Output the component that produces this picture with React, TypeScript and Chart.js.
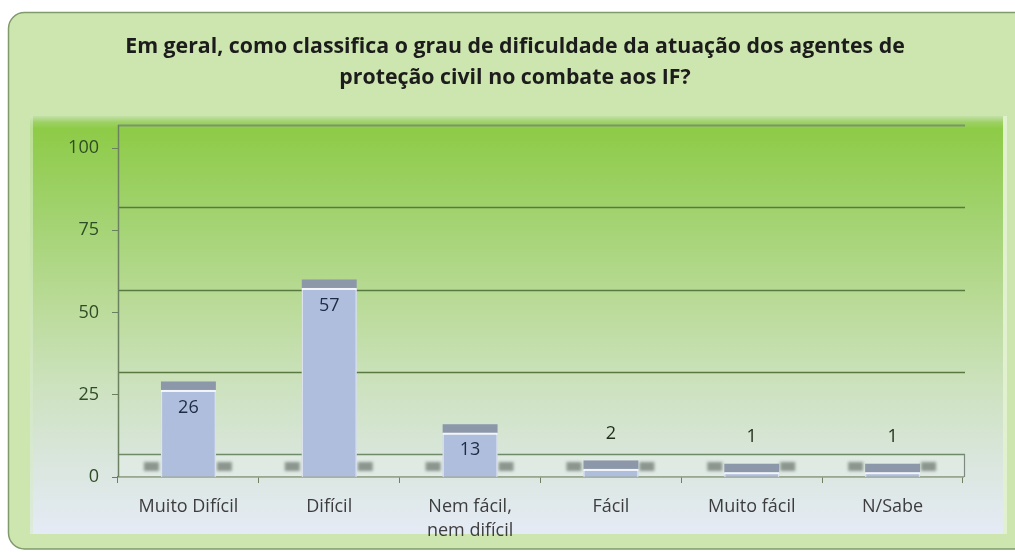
import React, { useEffect, useRef } from "react";
import { Chart, registerables } from "chart.js";

Chart.register(...registerables);

const titleLines = [
  "Em geral, como classifica o grau de dificuldade da atuação dos agentes de",
  "proteção civil no combate aos IF?",
];
const categories = [
  ["Muito Difícil"],
  ["Difícil"],
  ["Nem fácil,", "nem difícil"],
  ["Fácil"],
  ["Muito fácil"],
  ["N/Sabe"],
];
const values = [26, 57, 13, 2, 1, 1];
const yMin = 0;
const yMax = 100;
const yStep = 25;

const FONT = '"Open Sans", "DejaVu Sans", sans-serif';
const DEPTH = 23;

const backgroundPlugin = {
  id: "bgPanel",
  beforeDraw(chart: any) {
    const ctx = chart.ctx;
    const W = chart.width;
    const H = chart.height;
    ctx.save();
    ctx.fillStyle = "#ffffff";
    ctx.fillRect(0, 0, W, H);
    ctx.beginPath();
    (ctx as any).roundRect(8.5, 12.5, W + 20, 536.5, 16);
    ctx.fillStyle = "#cde6af";
    ctx.fill();
    ctx.lineWidth = 1.5;
    ctx.strokeStyle = "#7f9a6b";
    ctx.stroke();
    const top = 116;
    const bottom = 534;
    const g = ctx.createLinearGradient(0, top, 0, bottom);
    g.addColorStop(0, "#c3e1a8");
    g.addColorStop(0.015, "#9ed165");
    g.addColorStop(0.03, "#8ecb47");
    g.addColorStop(0.25, "#a3d372");
    g.addColorStop(0.45, "#badb98");
    g.addColorStop(0.65, "#cde2bf");
    g.addColorStop(0.82, "#d9e6dc");
    g.addColorStop(1, "#e5ebf6");
    ctx.fillStyle = g;
    ctx.fillRect(30, top, 973, bottom - top);
    ctx.fillStyle = "rgba(230,242,215,0.8)";
    ctx.fillRect(1003, top, 4, bottom - top);
    ctx.fillStyle = "rgba(215,235,200,0.6)";
    ctx.fillRect(30, top, 3, bottom - top);
    ctx.restore();
  },
};

const titlePlugin = {
  id: "titleText",
  afterDraw(chart: any) {
    const ctx = chart.ctx;
    ctx.save();
    ctx.font = `bold 21.3px ${FONT}`;
    ctx.fillStyle = "#1c1c1c";
    ctx.textAlign = "center";
    ctx.textBaseline = "middle";
    ctx.fillText(titleLines[0], 515, 47);
    ctx.fillText(titleLines[1], 515, 78);
    ctx.restore();
  },
};

const wallsPlugin = {
  id: "walls",
  beforeDatasetsDraw(chart: any) {
    const ctx = chart.ctx;
    const ys = chart.scales.y;
    const ca = chart.chartArea;
    const right = ca.right + 2;
    const y0 = ys.getPixelForValue(yMin);
    const yTop = ys.getPixelForValue(yMax) - DEPTH;
    ctx.save();
    ctx.fillStyle = "rgba(236,242,238,0.35)";
    ctx.fillRect(ca.left, y0 - DEPTH, right - ca.left, DEPTH);
    for (let v = yMin; v < yMax; v += yStep) {
      const y = Math.round(ys.getPixelForValue(v) - DEPTH) + 0.5;
      ctx.beginPath();
      ctx.moveTo(ca.left, y);
      ctx.lineTo(right, y);
      ctx.lineWidth = 1.7;
      ctx.strokeStyle = v === yMin ? "#6f8a66" : "#587a40";
      ctx.stroke();
    }
    ctx.beginPath();
    ctx.moveTo(ca.left, Math.round(yTop) + 0.5);
    ctx.lineTo(right, Math.round(yTop) + 0.5);
    ctx.lineWidth = 2;
    ctx.strokeStyle = "#7a9470";
    ctx.stroke();
    ctx.beginPath();
    ctx.moveTo(ca.left + 0.5, yTop);
    ctx.lineTo(ca.left + 0.5, y0);
    ctx.lineWidth = 1.5;
    ctx.strokeStyle = "#6c8160";
    ctx.stroke();
    ctx.beginPath();
    ctx.moveTo(right - 0.5, y0 - DEPTH);
    ctx.lineTo(right - 0.5, y0);
    ctx.lineWidth = 1.2;
    ctx.strokeStyle = "#7d8a80";
    ctx.stroke();
    const meta = chart.getDatasetMeta(0);
    ctx.filter = "blur(1.5px)";
    ctx.fillStyle = "rgba(125,135,128,0.85)";
    meta.data.forEach((el: any) => {
      const w = el.width;
      ctx.fillRect(el.x - w / 2 - 17, y0 - 15, 15, 9);
      ctx.fillRect(el.x + w / 2 + 1, y0 - 15, 15, 9);
    });
    ctx.filter = "none";
    ctx.restore();
  },
};

const capsPlugin = {
  id: "caps",
  afterDatasetsDraw(chart: any) {
    const ctx = chart.ctx;
    const meta = chart.getDatasetMeta(0);
    const ys = chart.scales.y;
    const y0 = ys.getPixelForValue(yMin);
    ctx.save();
    meta.data.forEach((el: any, i: number) => {
      const w = el.width;
      const left = el.x - w / 2;
      const top = el.y;
      ctx.fillStyle = "#8c98aa";
      ctx.fillRect(left, top - 10, w, 9);
      ctx.fillStyle = "#f3f5f9";
      ctx.fillRect(left, top - 1.5, w, 2);
      ctx.strokeStyle = "rgba(255,255,255,0.55)";
      ctx.lineWidth = 1.2;
      ctx.beginPath();
      ctx.moveTo(left + 0.6, top);
      ctx.lineTo(left + 0.6, y0);
      ctx.moveTo(left + w - 0.6, top);
      ctx.lineTo(left + w - 0.6, y0);
      ctx.stroke();
      const v = values[i];
      ctx.font = `18px ${FONT}`;
      ctx.textAlign = "center";
      ctx.textBaseline = "middle";
      if (v >= 10) {
        ctx.fillStyle = "#1e2b45";
        ctx.fillText(String(v), el.x, top + 16);
      } else {
        ctx.fillStyle = "#1f2c16";
        ctx.fillText(String(v), el.x, top - 37);
      }
    });
    ctx.restore();
  },
};

export default function App() {
  const ref = useRef<HTMLCanvasElement | null>(null);
  useEffect(() => {
    if (!ref.current) return;
    const chart = new Chart(ref.current, {
      type: "bar",
      data: {
        labels: categories as any,
        datasets: [
          {
            data: values,
            backgroundColor: "#b0bedd",
            borderWidth: 0,
            barPercentage: 0.39,
            categoryPercentage: 1,
          },
        ],
      },
      options: {
        animation: false,
        responsive: true,
        maintainAspectRatio: false,
        layout: { padding: { left: 30, right: 52, top: 148, bottom: 15 } },
        plugins: {
          legend: { display: false },
          tooltip: { enabled: false },
          title: { display: false },
        },
        scales: {
          x: {
            grid: {
              display: true,
              drawOnChartArea: false,
              color: "#6f8060",
              tickLength: 6,
              offset: true,
            },
            border: { display: true, color: "#6f8060", width: 1.5 },
            ticks: {
              color: "#3d3d3d",
              font: { family: FONT, size: 18, lineHeight: 1.33 },
              padding: 12,
              maxRotation: 0,
              autoSkip: false,
            },
            afterFit: (s: any) => {
              s.height = 60;
            },
          },
          y: {
            min: yMin,
            max: yMax,
            grid: { drawOnChartArea: false, color: "#6a7f5c", tickLength: 6 },
            border: { display: false },
            ticks: {
              stepSize: yStep,
              color: "#2f4d25",
              font: { family: FONT, size: 18 },
              padding: 13,
            },
            afterFit: (s: any) => {
              s.width = 88;
            },
          },
        },
      },
      plugins: [backgroundPlugin, wallsPlugin, capsPlugin, titlePlugin],
    });
    return () => chart.destroy();
  }, []);
  return (
    <div style={{ position: "fixed", left: 0, top: 0, width: 1015, height: 552 }}>
      <canvas ref={ref} />
    </div>
  );
}
